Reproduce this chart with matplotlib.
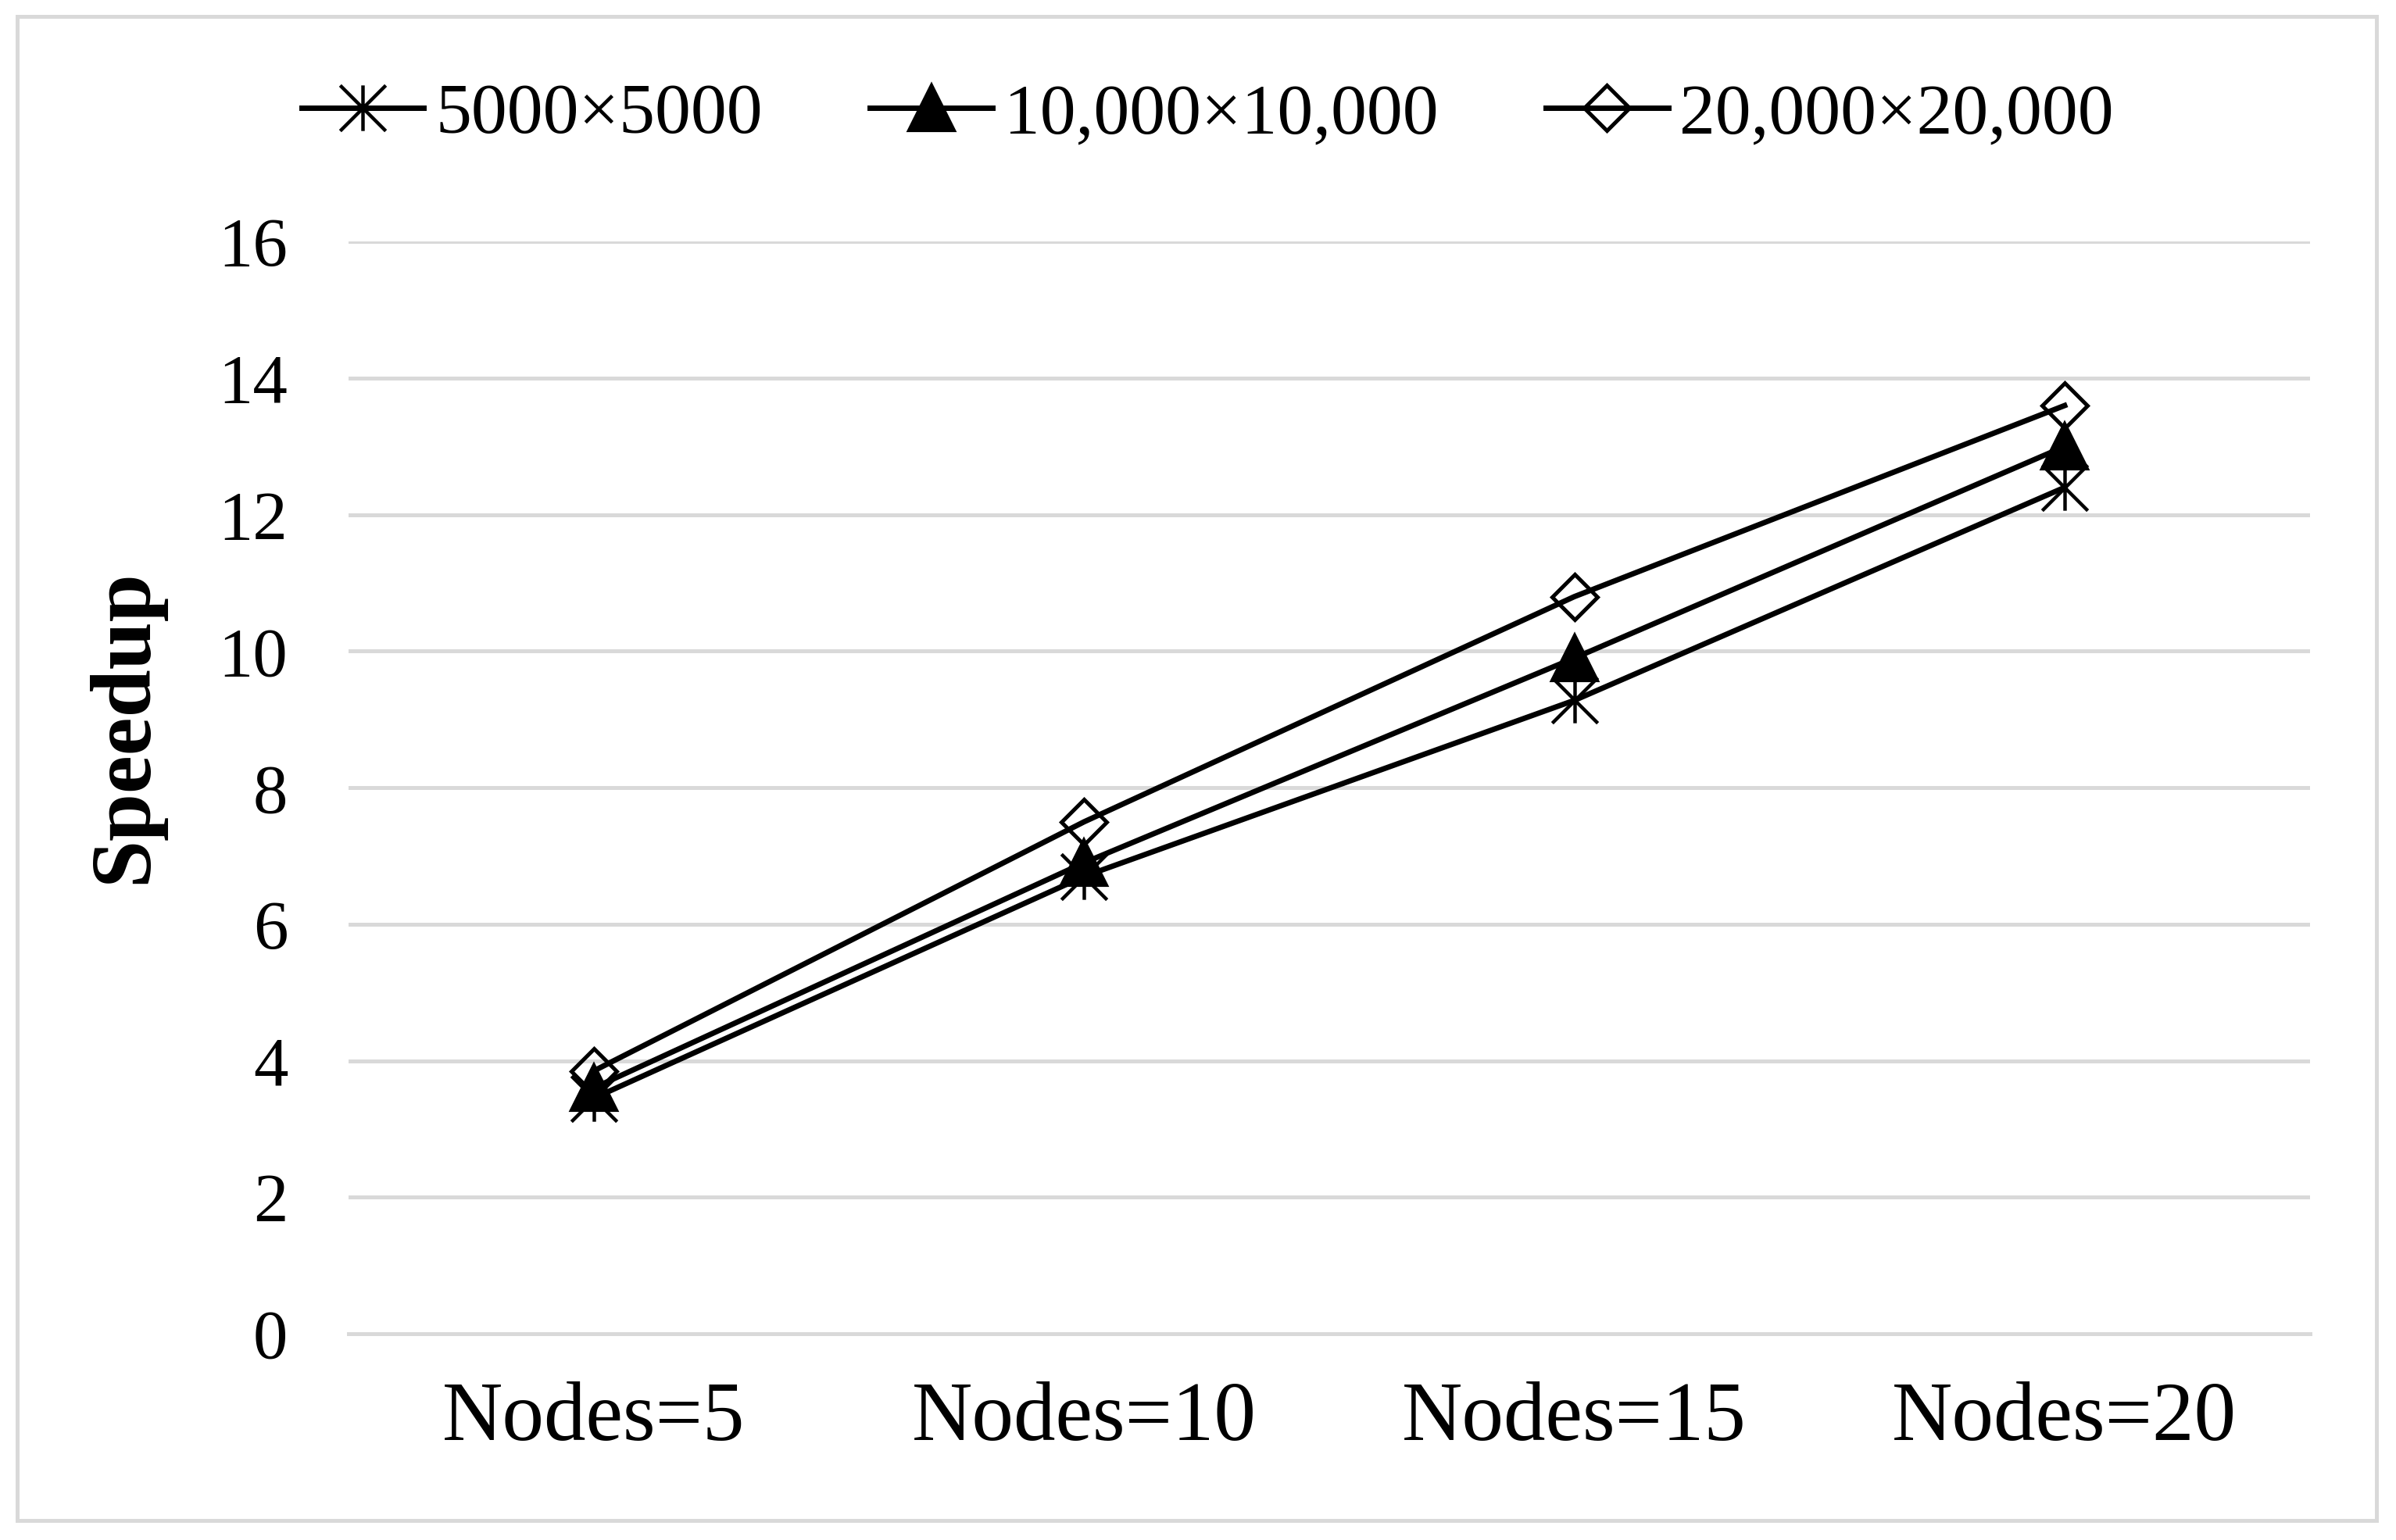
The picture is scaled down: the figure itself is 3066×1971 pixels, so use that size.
import matplotlib
matplotlib.use("Agg")
import matplotlib.pyplot as plt
from matplotlib.path import Path
from matplotlib.patches import Rectangle

categories = ["Nodes=5", "Nodes=10", "Nodes=15", "Nodes=20"]
series_names = ["5000\u00d75000", "10,000\u00d710,000", "20,000\u00d720,000"]
s5000 = [3.45, 6.7, 9.28, 12.4]
s10000 = [3.6, 6.9, 9.9, 13.0]
s20000 = [3.85, 7.5, 10.8, 13.6]
yticks = [0, 2, 4, 6, 8, 10, 12, 14, 16]

plt.rcParams['font.family'] = ['Liberation Serif', 'DejaVu Serif']

fig = plt.figure(figsize=(15.33, 9.855), dpi=200)
ax = fig.add_axes([0.1455, 0.134, 0.8185, 0.709])

asterisk = Path([(0, -1), (0, 1), (-1, -1), (1, 1), (-1, 1), (1, -1)],
                [Path.MOVETO, Path.LINETO, Path.MOVETO, Path.LINETO, Path.MOVETO, Path.LINETO])

x = list(range(len(categories)))
lw = 2.5
ax.plot(x, s5000, color='black', lw=lw, marker=asterisk, ms=21, mew=1.6,
        mec='black', label=series_names[0], zorder=3)
ax.plot(x, s10000, color='black', lw=lw, marker='^', ms=21, mew=1.5,
        mfc='black', mec='black', label=series_names[1], zorder=3)
ax.plot(x, s20000, color='black', lw=lw, marker='D', ms=15, mew=1.8,
        mfc='none', mec='black', label=series_names[2], zorder=3)

ax.set_xlim(-0.5, 3.5)
ax.set_ylim(0, 16)
ax.set_yticks(yticks)
ax.set_xticks(x)
ax.set_xticklabels(categories)
ax.grid(axis='y', color='#d9d9d9', lw=1.8)
ax.set_axisbelow(True)
for sp in ['top', 'right', 'left']:
    ax.spines[sp].set_visible(False)
ax.spines['bottom'].set_color('#d9d9d9')
ax.spines['bottom'].set_linewidth(1.8)
ax.tick_params(axis='both', length=0)
ax.tick_params(axis='y', labelsize=32, pad=28)
ax.tick_params(axis='x', labelsize=38.5, pad=22)
ax.set_ylabel("Speedup", fontsize=39.5, fontweight='bold')
ax.yaxis.label.set_va('center')
ax.yaxis.set_label_coords(-0.1139, 0.556)

leg = fig.legend(loc='center', bbox_to_anchor=(0.5040, 0.925), ncol=3, frameon=False,
                 fontsize=33, handlelength=1.71, columnspacing=1.5, handletextpad=0.16)

fig.patches.append(Rectangle((22 / 3066, 1 - 1946 / 1971), (3041 - 22) / 3066, (1946 - 21) / 1971,
                             transform=fig.transFigure, fill=False, edgecolor='#d9d9d9', lw=1.8))

fig.savefig("out.png", dpi=200)
